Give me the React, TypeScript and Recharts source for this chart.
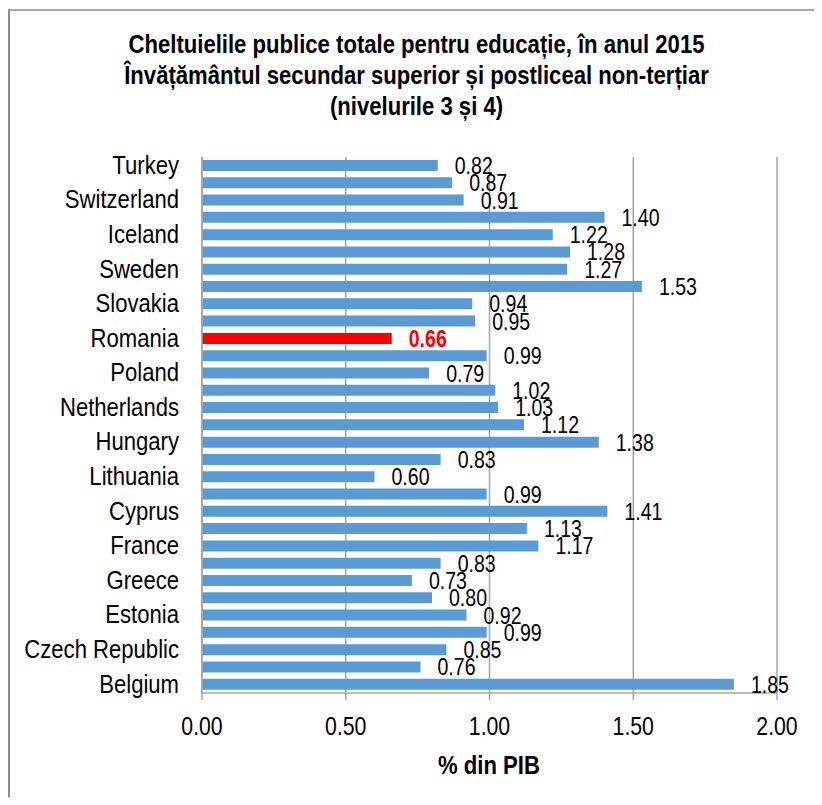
import React from 'react';
import { BarChart, Bar, XAxis, YAxis, CartesianGrid, LabelList, Cell } from 'recharts';

const countries = [
  'Turkey', 'North Macedonia', 'Switzerland', 'Norway', 'Iceland', 'United Kingdom', 'Sweden', 'Finland',
  'Slovakia', 'Slovenia', 'Romania', 'Portugal', 'Poland', 'Austria', 'Netherlands', 'Malta', 'Hungary',
  'Luxembourg', 'Lithuania', 'Latvia', 'Cyprus', 'Italy', 'France', 'Spain', 'Greece', 'Ireland', 'Estonia',
  'Germany', 'Czech Republic', 'Bulgaria', 'Belgium',
];
const values = [
  0.82, 0.87, 0.91, 1.40, 1.22, 1.28, 1.27, 1.53,
  0.94, 0.95, 0.66, 0.99, 0.79, 1.02, 1.03, 1.12, 1.38,
  0.83, 0.60, 0.99, 1.41, 1.13, 1.17, 0.83, 0.73, 0.80, 0.92,
  0.99, 0.85, 0.76, 1.85,
];
const highlight = 'Romania';
const xTicks = [0, 0.5, 1, 1.5, 2];
const titleLines = [
  'Cheltuielile publice totale pentru educație, în anul 2015',
  'Învățământul secundar superior și postliceal non-terțiar',
  '(nivelurile 3 și 4)',
];
const xLabel = '% din PIB';

const data = countries.map((name, i) => ({ name, value: values[i] }));

const FONT = "'Liberation Sans', Arial, sans-serif";
const SX = 0.85;
const BLUE = '#5b9bd5';
const RED = '#ff0000';
const GRID = '#a6a6a6';

const ValueLabel = (props: any) => {
  const { x, y, width, height, value, index } = props;
  const isHi = data[index] && data[index].name === highlight;
  const tx = Number(x) + Number(width) + 17;
  const ty = Number(y) + Number(height) / 2 + 1;
  return (
    <text
      transform={`translate(${tx},${ty}) scale(${SX},1)`}
      x={0}
      y={0}
      dominantBaseline="central"
      fontSize={23}
      fontFamily={FONT}
      fontWeight={isHi ? 'bold' : 'normal'}
      fill={isHi ? RED : '#000'}
    >
      {Number(value).toFixed(2)}
    </text>
  );
};

const YTick = (props: any) => {
  const { x, y, payload } = props;
  return (
    <text
      transform={`translate(${x},${y}) scale(${SX},1)`}
      x={0}
      y={-1}
      textAnchor="end"
      dominantBaseline="central"
      fontSize={26}
      fontFamily={FONT}
      fill="#000"
    >
      {payload.value}
    </text>
  );
};

const XTick = (props: any) => {
  const { x, y, payload } = props;
  return (
    <text
      transform={`translate(${x},${Number(y) + 18}) scale(${SX},1)`}
      x={0}
      y={0}
      textAnchor="middle"
      dominantBaseline="central"
      fontSize={25}
      fontFamily={FONT}
      fill="#000"
    >
      {Number(payload.value).toFixed(2)}
    </text>
  );
};

export default function App() {
  return (
    <div style={{ position: 'relative', width: 806, height: 789, overflow: 'hidden', fontFamily: FONT, background: '#fff' }}>
      <div
        style={{
          position: 'absolute', left: 0, top: 1, width: 900, height: 900,
          borderTop: '2px solid #a6a6a6', borderLeft: '2px solid #8c8c8c', boxSizing: 'border-box',
        }}
      />
      <div style={{ position: 'absolute', left: 0, top: 0 }}>
        <BarChart
          width={806}
          height={789}
          data={data}
          layout="vertical"
          margin={{ top: 149, right: 37, bottom: 44, left: 0 }}
        >
          <CartesianGrid horizontal={false} vertical={true} stroke={GRID} strokeWidth={1.5} />
          <XAxis
            type="number"
            domain={[0, 2]}
            ticks={xTicks}
            axisLine={{ stroke: GRID, strokeWidth: 1.5 }}
            tickLine={{ stroke: GRID, strokeWidth: 1.5 }}
            tickSize={7}
            tickMargin={8}
            height={60}
            tick={<XTick />}
          />
          <YAxis
            type="category"
            dataKey="name"
            width={194}
            interval={1}
            axisLine={{ stroke: GRID, strokeWidth: 1.5 }}
            tickLine={false}
            tickSize={0}
            tickMargin={23}
            tick={<YTick />}
          />
          <Bar dataKey="value" barSize={11} isAnimationActive={false}>
            {data.map((d) => (
              <Cell key={d.name} fill={d.name === highlight ? RED : BLUE} />
            ))}
            <LabelList dataKey="value" content={ValueLabel} />
          </Bar>
        </BarChart>
      </div>
      <div
        style={{
          position: 'absolute', left: 0, top: 21, width: 817, textAlign: 'center',
          fontWeight: 'bold', fontSize: 26, lineHeight: '31px', color: '#000',
        }}
      >
        {titleLines.map((t) => (
          <div key={t} style={{ transform: `scaleX(${SX})`, whiteSpace: 'nowrap' }}>{t}</div>
        ))}
      </div>
      <div
        style={{
          position: 'absolute', left: 381, top: 742, width: 200, textAlign: 'center',
          fontWeight: 'bold', fontSize: 26, lineHeight: '30px', color: '#000',
          transform: `scaleX(${SX})`,
        }}
      >
        {xLabel}
      </div>
    </div>
  );
}
